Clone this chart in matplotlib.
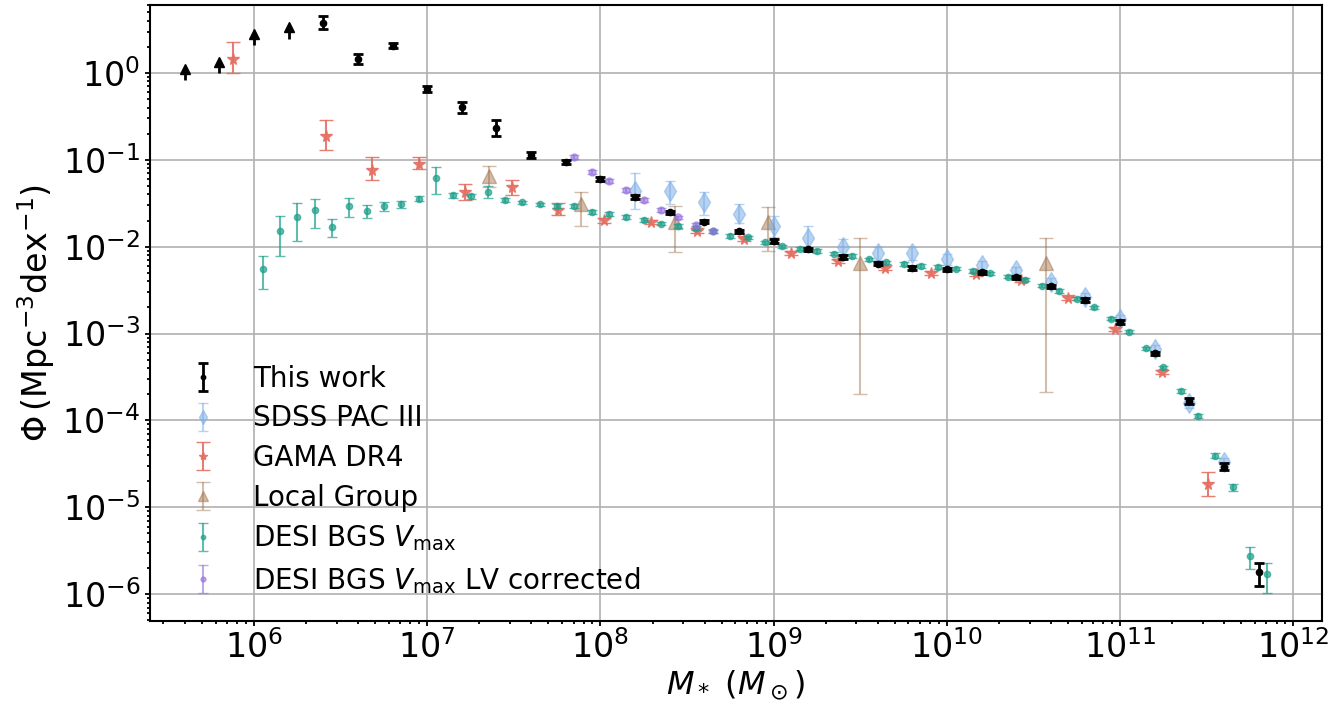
import matplotlib.pyplot as plt
import numpy as np

# This work: lower limits (arrows) at the low-mass end
lim_logm = [5.6, 5.8, 6.0, 6.2]
lim_phi = [0.82, 1.0, 2.08, 2.49]

# This work
tw_logm = [6.4, 6.6, 6.8, 7.0, 7.2, 7.4, 7.6, 7.8, 8.0, 8.2, 8.4, 8.6, 8.8, 9.0, 9.2, 9.4,
           9.6, 9.8, 10.0, 10.2, 10.4, 10.6, 10.8, 11.0, 11.2, 11.4, 11.6, 11.8]
tw_phi = [3.8, 1.45, 2.07, 0.655, 0.406, 0.235, 0.115, 0.0946, 0.0603, 0.0374, 0.0249, 0.0195,
          0.0150, 0.0117, 0.00935, 0.00763, 0.0064, 0.0057, 0.0055, 0.00505, 0.00442, 0.0035,
          0.00242, 0.00136, 5.9e-4, 1.67e-4, 2.92e-5, 1.81e-6]
tw_lo = [0.077, 0.061, 0.025, 0.03, 0.065, 0.092, 0.035, 0.02, 0.02, 0.027, 0.02, 0.02,
         0.02, 0.02, 0.02, 0.02, 0.02, 0.02, 0.02, 0.02, 0.02, 0.02,
         0.02, 0.02, 0.02, 0.03, 0.04, 0.165]
tw_hi = [0.076, 0.062, 0.025, 0.03, 0.057, 0.092, 0.035, 0.02, 0.02, 0.027, 0.02, 0.02,
         0.02, 0.02, 0.02, 0.02, 0.02, 0.02, 0.02, 0.02, 0.02, 0.02,
         0.02, 0.02, 0.02, 0.03, 0.04, 0.096]

# SDSS PAC III
sdss_logm = [8.2, 8.4, 8.6, 8.8, 9.0, 9.2, 9.4, 9.6, 9.8, 10.0, 10.2, 10.4, 10.6, 10.8,
             11.0, 11.2, 11.4, 11.6]
sdss_phi = [0.0440, 0.0437, 0.0328, 0.0241, 0.0172, 0.01276, 0.0100, 0.0085, 0.0084, 0.00713,
            0.00612, 0.00537, 0.00394, 0.00264, 0.00149, 6.7e-4, 1.57e-4, 3.3e-5]
sdss_lo = [0.21, 0.145, 0.153, 0.11, 0.123, 0.127, 0.09, 0.08, 0.08, 0.06, 0.05, 0.04, 0.04,
           0.04, 0.04, 0.04, 0.05, 0.05]
sdss_hi = [0.2, 0.115, 0.115, 0.11, 0.115, 0.13, 0.09, 0.07, 0.07, 0.06, 0.05, 0.04, 0.04,
           0.04, 0.04, 0.04, 0.05, 0.05]

# GAMA DR4
gama_logm = [5.877, 6.414, 6.68, 6.952, 7.22, 7.49, 7.755, 8.02, 8.29, 8.56, 8.83, 9.10,
             9.37, 9.64, 9.91, 10.17, 10.43, 10.70, 10.97, 11.24, 11.51]
gama_phi = [1.46, 0.187, 0.0773, 0.0906, 0.0427, 0.0488, 0.0263, 0.0202, 0.0193, 0.0153,
            0.0124, 0.0084, 0.00687, 0.00576, 0.0050, 0.00483, 0.00412, 0.0026, 0.00112,
            3.63e-4, 1.85e-5]
gama_lo = [0.164, 0.161, 0.125, 0.065, 0.095, 0.089, 0.06, 0.03, 0.025, 0.025, 0.025, 0.025,
           0.025, 0.025, 0.025, 0.025, 0.025, 0.025, 0.025, 0.025, 0.137]
gama_hi = [0.192, 0.192, 0.139, 0.076, 0.089, 0.082, 0.08, 0.03, 0.025, 0.025, 0.025, 0.025,
           0.025, 0.025, 0.025, 0.025, 0.025, 0.025, 0.025, 0.025, 0.143]

# Local Group
lg_logm = [7.355, 7.89, 8.43, 8.965, 9.50, 10.57]
lg_phi = [0.0648, 0.0314, 0.019, 0.0193, 0.0065, 0.0065]
lg_upper = [0.0844, 0.0428, 0.0295, 0.0288, 0.0126, 0.0126]
lg_lower = [0.0488, 0.0174, 0.00865, 0.0089, 2.04e-4, 2.1e-4]

# DESI BGS Vmax
desi_logm = [6.05, 6.15, 6.25, 6.35, 6.45, 6.55, 6.65, 6.75, 6.85, 6.95,
             7.05, 7.15, 7.25, 7.35, 7.45, 7.55, 7.65, 7.75, 7.85, 7.95,
             8.05, 8.15, 8.25, 8.35, 8.45, 8.55, 8.65, 8.75, 8.85, 8.95,
             9.05, 9.15, 9.25, 9.35, 9.45, 9.55, 9.65, 9.75, 9.85, 9.95,
             10.05, 10.15, 10.25, 10.35, 10.45, 10.55, 10.65, 10.75, 10.85, 10.95,
             11.05, 11.15, 11.25, 11.35, 11.45, 11.55, 11.65, 11.75, 11.85]
desi_phi = [0.0056, 0.0152, 0.022, 0.0263, 0.0169, 0.0295, 0.0258, 0.0292, 0.0308, 0.0358,
            0.061, 0.0392, 0.0381, 0.0427, 0.0343, 0.0323, 0.0308, 0.0295, 0.0295, 0.0251,
            0.0237, 0.0219, 0.0202, 0.0184, 0.0173, 0.0164, 0.0150, 0.0132, 0.0128, 0.0112,
            0.0101, 0.0095, 0.00888, 0.00835, 0.00778, 0.00713, 0.00658, 0.0063, 0.00597, 0.00586,
            0.0056, 0.00527, 0.00492, 0.00452, 0.00419, 0.00356, 0.0031, 0.00253, 0.0020, 0.00149,
            0.00105, 6.74e-4, 4.07e-4, 2.19e-4, 1.12e-4, 3.92e-5, 1.69e-5, 2.74e-6, 1.7e-6]
desi_lo = [0.23, 0.291, 0.278, 0.21, 0.121, 0.125, 0.08, 0.05, 0.04, 0.03,
           0.183, 0.03, 0.03, 0.07, 0.025, 0.02, 0.02, 0.02, 0.02, 0.02,
           0.02, 0.02, 0.02, 0.02, 0.02, 0.02, 0.02, 0.02, 0.02, 0.02,
           0.02, 0.02, 0.02, 0.02, 0.02, 0.02, 0.02, 0.02, 0.02, 0.02,
           0.02, 0.02, 0.02, 0.02, 0.02, 0.02, 0.02, 0.02, 0.02, 0.02,
           0.02, 0.02, 0.02, 0.02, 0.02, 0.03, 0.04, 0.148, 0.218]
desi_hi = [0.143, 0.168, 0.165, 0.135, 0.092, 0.092, 0.065, 0.05, 0.04, 0.03,
           0.134, 0.03, 0.03, 0.07, 0.025, 0.02, 0.02, 0.02, 0.02, 0.02,
           0.02, 0.02, 0.02, 0.02, 0.02, 0.02, 0.02, 0.02, 0.02, 0.02,
           0.02, 0.02, 0.02, 0.02, 0.02, 0.02, 0.02, 0.02, 0.02, 0.02,
           0.02, 0.02, 0.02, 0.02, 0.02, 0.02, 0.02, 0.02, 0.02, 0.02,
           0.02, 0.02, 0.02, 0.02, 0.02, 0.03, 0.04, 0.106, 0.131]

# DESI BGS Vmax LV corrected
lv_logm = [7.85, 7.95, 8.05, 8.15, 8.25, 8.35, 8.45, 8.55, 8.65]
lv_phi = [0.108, 0.0726, 0.0572, 0.0447, 0.0343, 0.0263, 0.0217, 0.0177, 0.0152]
lv_err = [0.02, 0.02, 0.02, 0.02, 0.02, 0.02, 0.02, 0.02, 0.02]


def dex_err(phi, lo, hi):
    phi = np.array(phi)
    return [phi - phi * 10 ** -np.array(lo), phi * 10 ** np.array(hi) - phi]


fig = plt.figure(figsize=(13.42, 7.08), dpi=100)
ax = fig.add_axes([0.1118, 0.1233, 0.8731, 0.8696])

h_lg = ax.errorbar(10 ** np.array(lg_logm), lg_phi,
                   yerr=[np.array(lg_phi) - np.array(lg_lower), np.array(lg_upper) - np.array(lg_phi)],
                   fmt='^', ms=10, color='#9c6b43', alpha=0.45, capsize=5, elinewidth=1.5,
                   label='Local Group', zorder=2)
h_sdss = ax.errorbar(10 ** np.array(sdss_logm), sdss_phi, yerr=dex_err(sdss_phi, sdss_lo, sdss_hi),
                     fmt='d', ms=10, color='#7fb0e6', alpha=0.55, capsize=3.5, elinewidth=1.5,
                     label='SDSS PAC III', zorder=2)
h_gama = ax.errorbar(10 ** np.array(gama_logm), gama_phi, yerr=dex_err(gama_phi, gama_lo, gama_hi),
                     fmt='*', ms=8.5, color='#e56f62', alpha=0.9, capsize=5, elinewidth=1.5,
                     label='GAMA DR4', zorder=3)
h_desi = ax.errorbar(10 ** np.array(desi_logm), desi_phi, yerr=dex_err(desi_phi, desi_lo, desi_hi),
                     fmt='o', ms=4.5, color='#20a08c', alpha=0.7, capsize=3.5, elinewidth=1.5,
                     label=r'DESI BGS $V_{\rm max}$', zorder=4)
h_lv = ax.errorbar(10 ** np.array(lv_logm), lv_phi, yerr=dex_err(lv_phi, lv_err, lv_err),
                   fmt='o', ms=5, color='mediumpurple', alpha=0.6, capsize=3.5, elinewidth=1.5,
                   label=r'DESI BGS $V_{\rm max}$ LV corrected', zorder=5)
h_tw = ax.errorbar(10 ** np.array(tw_logm), tw_phi, yerr=dex_err(tw_phi, tw_lo, tw_hi),
                   fmt='o', ms=4.5, color='black', capsize=3.5, elinewidth=2, capthick=2,
                   label='This work', zorder=6)

# lower limits drawn as upward arrows
lim_x = 10 ** np.array(lim_logm)
lim_top = np.array(lim_phi) * 10 ** 0.13
ax.vlines(lim_x, lim_phi, lim_top, color='black', linewidth=2, zorder=6)
ax.plot(lim_x, lim_top, '^', color='black', ms=7.5, linestyle='none', zorder=6)

ax.set_xscale('log')
ax.set_yscale('log')
ax.set_xlim(10 ** 5.4, 10 ** 12.164)
ax.set_ylim(10 ** -6.306, 10 ** 0.7825)
ax.grid(True, which='major', color='#b0b0b0', linewidth=1.2)
ax.set_axisbelow(True)
for s in ax.spines.values():
    s.set_linewidth(1.5)
ax.tick_params(which='both', width=1.3, labelsize=24)
ax.set_xlabel(r'$M_* \ (M_\odot)$', fontsize=23, labelpad=2)
ax.set_ylabel(r'$\Phi\,(\mathrm{Mpc^{-3}dex^{-1}})$', fontsize=24)

ax.legend([h_tw, h_sdss, h_gama, h_lg, h_desi, h_lv],
          ['This work', 'SDSS PAC III', 'GAMA DR4', 'Local Group', r'DESI BGS $V_{\rm max}$',
           r'DESI BGS $V_{\rm max}$ LV corrected'],
          loc='lower left', frameon=False, fontsize=20, labelspacing=0.42, markerscale=0.7)

fig.savefig('out.png', dpi=100)
